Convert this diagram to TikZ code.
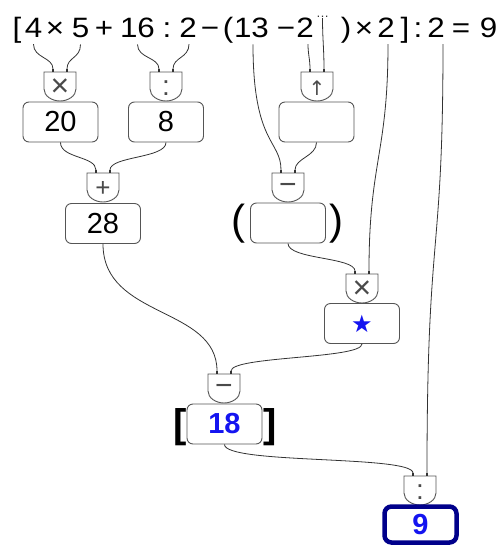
\documentclass[tikz,border=0pt]{standalone}
\usepackage{fontspec}
\setmainfont{Liberation Sans}
\newfontfamily\djv{DejaVu Sans}
\usepackage{graphicx}
\definecolor{ln}{HTML}{333333}
\definecolor{sy}{HTML}{4A4A4A}
\definecolor{bx}{HTML}{555555}
\definecolor{navyb}{HTML}{00008B}
\definecolor{blu}{HTML}{1414F0}
\tikzset{
 tok/.style={inner xsep=0pt, inner ysep=7pt, anchor=base, font=\fontsize{28}{28}\selectfont},
 valbox/.style={draw=bx, line width=0.9pt, rounded corners=6pt, minimum width=75pt, minimum height=40pt, inner sep=0pt, font=\fontsize{29}{29}\selectfont},
 finalbox/.style={valbox, draw=navyb, line width=4.5pt, minimum width=72pt, minimum height=36pt, rounded corners=7pt},
 bluetxt/.style={text=blu, font=\fontsize{29}{29}\selectfont\bfseries},
 wire/.style={draw=ln, line width=0.8pt},
 gateline/.style={draw=bx, line width=0.9pt, fill=white},
 gatesym/.style={text=sy, inner sep=0pt, font=\fontsize{24}{24}\selectfont},
 pin/.style={fill=ln},
 paren/.style={inner sep=0pt, font=\fontsize{42}{42}\selectfont},
 brk/.style={inner sep=0pt, font=\fontsize{40}{40}\selectfont\bfseries},
}
\newcommand\opgate[4]{%
 \draw[gateline] (#2-16,#3) -- (#2+16,#3) -- (#2+16,#3+17) .. controls (#2+16,#3+24) and (#2+8,#3+29) .. (#2,#3+29) .. controls (#2-8,#3+29) and (#2-16,#3+24) .. (#2-16,#3+17) -- cycle;
 \node[gatesym] (#1) at (#2,#3+16) {#4};
 \coordinate (#1-l) at (#2-7,#3-3);
 \coordinate (#1-r) at (#2+7,#3-3);
 \fill[pin] (#2-8.3,#3-3.5) rectangle (#2-5.7,#3);
 \fill[pin] (#2+5.7,#3-3.5) rectangle (#2+8.3,#3);
}
\newcommand\tk[1]{\scalebox{1.12}[1]{#1}}
\begin{document}
\begin{tikzpicture}[x=1pt,y=-1pt]
\useasboundingbox[fill=white] (0,0) rectangle (504,547);
% expression tokens
\node[tok] (tlb) at (17,37) {\tk{[}};
\node[tok] (t4) at (33.5,37) {\tk{4}};
\node[tok] (tm1) at (55,37) {\tk{×}};
\node[tok] (t5) at (80.5,37) {\tk{5}};
\node[tok] (tp) at (104,37) {\tk{+}};
\node[tok] (t16) at (137.5,37) {\tk{16}};
\node[tok] (tdv1) at (167,37) {\tk{:}};
\node[tok] (t2a) at (188,37) {\tk{2}};
\node[tok] (tmi1) at (210,37) {\tk{−}};
\node[tok] (tlp) at (228,37) {\tk{(}};
\node[tok] (t13) at (251.5,37) {\tk{13}};
\node[tok] (tmi2) at (286,37) {\tk{−}};
\node[tok] (t2b) at (305,37) {\tk{2}};
\node[anchor=base, inner sep=1pt, text=ln, font=\fontsize{13}{13}\selectfont] (dots) at (322.5,17) {…};
\node[tok] (trp) at (346,37) {\tk{)}};
\node[tok] (tm2) at (364,37) {\tk{×}};
\node[tok] (t2c) at (386,37) {\tk{2}};
\node[tok] (trb) at (405,37) {\tk{]}};
\node[tok] (tdv2) at (418,37) {\tk{:}};
\node[tok] (t2d) at (436,37) {\tk{2}};
\node[tok] (teq) at (461,37) {\tk{=}};
\node[tok] (t9) at (488.5,37) {\tk{9}};
% gates
\opgate{g1}{60}{72}{\fontsize{32}{32}\selectfont×}
\opgate{g2}{166}{72}{\fontsize{28}{28}\selectfont:}
\opgate{g3}{317}{72}{\djv\fontsize{20}{20}\selectfont↑}
\opgate{g4}{103}{173}{\fontsize{26}{26}\selectfont+}
\opgate{g5}{288}{173}{\fontsize{30}{30}\selectfont−}
\opgate{g6}{362}{274}{\fontsize{32}{32}\selectfont×}
\opgate{g7}{224}{374}{\fontsize{30}{30}\selectfont−}
\opgate{g8}{420}{476}{\fontsize{28}{28}\selectfont:}
% value boxes
\node[valbox] (b20) at (60.5,122) {20};
\node[valbox] (b8) at (166,122) {8};
\node[valbox] (b3) at (316.5,122) {};
\node[valbox] (b28) at (103,223.5) {28};
\node[valbox] (b5) at (288,223) {};
\node[valbox] (bst) at (362,323.5) {\djv\fontsize{24}{24}\selectfont\textcolor{blu}{★}};
\node[valbox, bluetxt] (b18) at (224.5,424) {18};
\node[finalbox, bluetxt] (b9) at (420.5,524.5) {9};
\node[paren] (lp5) at (238,224) {(};
\node[paren] (rp5) at (336,224) {)};
\node[brk] (lb18) at (180.5,427) {[};
\node[brk] (rb18) at (270.5,427) {]};
% wires
\draw[wire] (t4.south) .. controls +(0,14) and +(0,-12) .. (g1-l);
\draw[wire] (t5.south) .. controls +(0,14) and +(0,-12) .. (g1-r);
\draw[wire] (t16.south) .. controls +(0,14) and +(0,-12) .. (g2-l);
\draw[wire] ([xshift=1pt]t2a.south) .. controls +(0,14) and +(0,-12) .. (g2-r);
\draw[wire] ([xshift=3pt]t2b.south) .. controls +(0,10) and +(0,-10) .. (g3-l);
\draw[wire] (dots.south) .. controls +(0,20) and +(0,-20) .. (g3-r);
\draw[wire] ([xshift=1.5pt]t13.south) .. controls +(0,100) and +(0,-30) .. (g5-l);
\draw[wire] (b3.south) .. controls +(0,14) and +(0,-12) .. (g5-r);
\draw[wire] (b20.south) .. controls +(0,16) and +(0,-14) .. (g4-l);
\draw[wire] (b8.south) .. controls +(0,16) and +(0,-14) .. (g4-r);
\draw[wire] ([xshift=2pt]t2c.south) .. controls +(0,110) and +(0,-110) .. (g6-r);
\draw[wire] (b5.south) .. controls +(0,16) and +(0,-14) .. (g6-l);
\draw[wire] (b28.south) .. controls +(0,75) and +(0,-65) .. (g7-l);
\draw[wire] (bst.south) .. controls +(0,15) and +(0,-15) .. (g7-r);
\draw[wire] ([xshift=7pt]t2d.south) .. controls +(0,220) and +(0,-250) .. (g8-r);
\draw[wire] (b18.south) .. controls +(0,20) and +(0,-18) .. (g8-l);
\end{tikzpicture}
\end{document}
